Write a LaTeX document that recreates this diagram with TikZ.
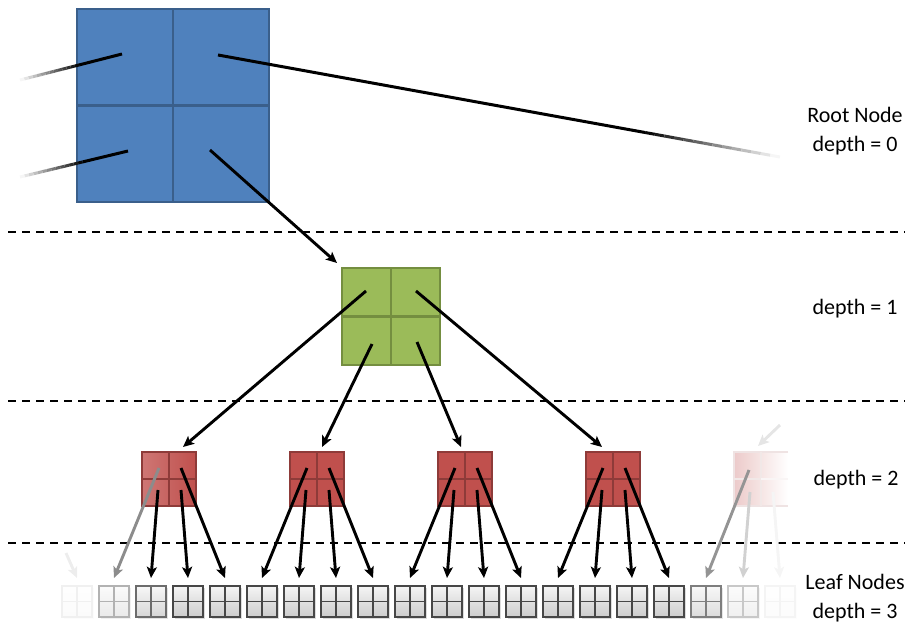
\documentclass[tikz,border=0pt]{standalone}
\usepackage{fontspec}
\setmainfont{Carlito}
\usetikzlibrary{arrows.meta,calc,shadows}
\definecolor{bluefill}{HTML}{4F81BD}
\definecolor{blueline}{HTML}{3A5F8B}
\definecolor{greenfill}{HTML}{9BBB59}
\definecolor{greenline}{HTML}{748E40}
\definecolor{redfill}{HTML}{C0504D}
\definecolor{redline}{HTML}{8E3B39}
\tikzset{
  quad/.style={rectangle, inner sep=0pt, outer sep=0pt},
  bluebox/.style={quad, fill=bluefill, draw=blueline, line width=2.5pt, minimum width=192pt, minimum height=193pt},
  greenbox/.style={quad, fill=greenfill, draw=greenline, line width=2.5pt, minimum width=98pt, minimum height=97pt},
  redbox/.style={quad, draw=redline, line width=2pt, minimum width=54pt, minimum height=54pt},
  leaf/.style={quad, line width=1.2pt, minimum width=30pt, minimum height=31pt},
  arr/.style={line width=2.9pt, -{Stealth[length=11pt,width=10pt,inset=2.5pt]}},
  sep/.style={line width=2pt, dash pattern=on 8pt off 6pt},
  lbl/.style={align=center, font=\fontsize{22}{29}\selectfont, inner sep=0pt}
}
\newcommand\fadeline[3]{% from, to, fraction where fading begins
  \draw[line width=3pt] (#1) -- ($(#1)!#3!(#2)$);
  \foreach \i in {0,...,13}{
    \pgfmathsetmacro\fa{#3+(1-#3)*\i/14}
    \pgfmathsetmacro\fb{#3+(1-#3)*(\i+1)/14}
    \pgfmathsetmacro\fc{100*(1-(\i+0.5)/14)}
    \draw[line width=3pt, black!\fc] ($(#1)!\fa!(#2)$) -- ($(#1)!\fb!(#2)$);
  }
}
\newcommand\leafbox[3]{% name, x, strength
  \pgfmathsetmacro\lb{72*#3}
  \pgfmathsetmacro\lt{4*#3}
  \pgfmathsetmacro\lbot{20*#3}
  \pgfmathsetmacro\ls{0.28*#3}
  \node[leaf, draw=black!\lb, top color=black!\lt, bottom color=black!\lbot,
        drop shadow={shadow xshift=1.5pt, shadow yshift=-2pt, opacity=\ls}] (#1) at (#2,601.5) {};
  \draw[line width=1.1pt, black!\lb] (#1.north) -- (#1.south) (#1.west) -- (#1.east);
}
\begin{document}
\begin{tikzpicture}[x=1pt, y=-1pt]
\useasboundingbox (0,0) rectangle (911,626);

% dashed separators
\coordinate (s1a) at (8,232);   \coordinate (s1b) at (905,232);
\coordinate (s2a) at (8,401);   \coordinate (s2b) at (905,401);
\coordinate (s3a) at (8,543);   \coordinate (s3b) at (905,543);
\draw[sep] (s1a) -- (s1b);
\draw[sep] (s2a) -- (s2b);
\draw[sep] (s3a) -- (s3b);

% root node
\node[bluebox] (root) at (173,105.5) {};
\draw[blueline, line width=2.5pt] (root.north) -- (root.south) (root.west) -- (root.east);

% green node
\node[greenbox] (g) at (391,316.5) {};
\draw[greenline, line width=2.5pt] (g.north) -- (g.south) (g.west) -- (g.east);

% red nodes
\node[redbox, left color=redfill!78!white, right color=redfill] (r1) at (169,479) {};
\node[redbox, fill=redfill] (r2) at (317,479) {};
\node[redbox, fill=redfill] (r3) at (465,479) {};
\node[redbox, fill=redfill] (r4) at (613,479) {};
\foreach \r in {r1,r2,r3,r4}{
  \draw[redline, line width=2pt] (\r.north) -- (\r.south) (\r.west) -- (\r.east);
}
\node[redbox, draw=none, left color=redfill!30!white, right color=white] (r5) at (761,479) {};
\draw[redline!14!white, line width=2pt] (r5.north east) -- (r5.north west) -- (r5.south west) -- (r5.south east);
\draw[redline!12!white, line width=2pt] (r5.north) -- (r5.south) (r5.west) -- (r5.center);
\draw[redline!5!white, line width=2pt] (r5.center) -- (r5.east);

% leaves
\foreach \k/\o in {0/0.08,1/0.42,2/0.8,3/1,4/1,5/1,6/1,7/1,8/1,9/1,10/1,11/1,12/1,13/1,14/1,15/1,16/1,17/0.7,18/0.3,19/0.06}{
  \pgfmathsetmacro\lx{77+37*\k}
  \leafbox{l\k}{\lx}{\o}
}

% root outgoing lines (fading off the picture)
\coordinate (rTL) at (122,54);  \coordinate (offTL) at (20,80);
\coordinate (rBL) at (128,151); \coordinate (offBL) at (20,177);
\coordinate (rTR) at (218,55);  \coordinate (offTR) at (780,157);
\fadeline{rTL}{offTL}{0.42}
\fadeline{rBL}{offBL}{0.42}
\fadeline{rTR}{offTR}{0.76}

% root -> green
\draw[arr] ($(root.center)+(37,44.5)$) -- ($(g.north west)+(-5,-5)$);

% green -> red
\draw[arr] ($(g.center)+(-25,-25.5)$) -- ($(r1.north)+(14,-5)$);
\draw[arr] ($(g.center)+(-19,27.5)$)  -- ($(r2.north)+(5,-5)$);
\draw[arr] ($(g.center)+(26,25.5)$)   -- ($(r3.north)+(-4,-5)$);
\draw[arr] ($(g.center)+(25,-25.5)$)  -- ($(r4.north)+(-11,-5)$);
\coordinate (offR5) at (780,425);
\draw[arr, black!10] (offR5) -- ($(r5.north)+(-3,-6)$);

% red -> leaves
\draw[arr, black!45] ($(r1.center)+(-10,-11)$) -- ($(l1.north)+(0,-8)$);
\draw[arr] ($(r1.center)+(-11,11)$) -- ($(l2.north)+(0,-8)$);
\draw[arr] ($(r1.center)+(12,11)$)  -- ($(l3.north)+(0,-8)$);
\draw[arr] ($(r1.center)+(12,-11)$) -- ($(l4.north)+(0,-8)$);
\foreach \r/\a/\b/\c/\d in {r2/l5/l6/l7/l8, r3/l9/l10/l11/l12, r4/l13/l14/l15/l16}{
  \draw[arr] ($(\r.center)+(-10,-11)$) -- ($(\a.north)+(0,-8)$);
  \draw[arr] ($(\r.center)+(-11,11)$)  -- ($(\b.north)+(0,-8)$);
  \draw[arr] ($(\r.center)+(12,11)$)   -- ($(\c.north)+(0,-8)$);
  \draw[arr] ($(\r.center)+(12,-11)$)  -- ($(\d.north)+(0,-8)$);
}
\draw[arr, black!42] ($(r5.center)+(-12,-9)$) -- ($(l17.north)+(0,-8)$);
\draw[arr, black!18] ($(r5.center)+(-11,13)$) -- ($(l18.north)+(0,-8)$);
\draw[arr, black!4]  ($(r5.center)+(12,13)$)  -- ($(l19.north)+(0,-8)$);
\coordinate (offL0) at (66,553);
\draw[arr, black!7] (offL0) -- ($(l0.north)+(0,-8)$);

% labels
\node[lbl] (t0) at (855,131.5) {Root Node\\depth = 0};
\node[lbl] (t1) at (855,309) {depth = 1};
\node[lbl] (t2) at (856,480) {depth = 2};
\node[lbl] (t3) at (855,598.5) {Leaf Nodes\\depth = 3};
\end{tikzpicture}
\end{document}
